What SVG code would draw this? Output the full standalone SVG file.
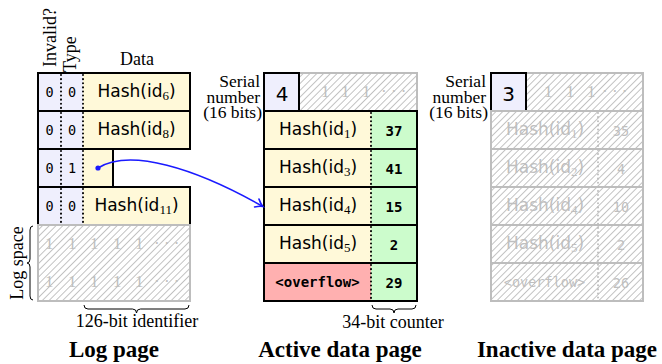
<svg xmlns="http://www.w3.org/2000/svg" width="662" height="364" viewBox="0 0 662 364">
<defs>
<pattern id="hatch" patternUnits="userSpaceOnUse" width="4.8" height="4.8" patternTransform="rotate(45)">
<rect width="4.8" height="4.8" fill="#ffffff"/>
<line x1="2.4" y1="-1" x2="2.4" y2="6" stroke="#bdbdbd" stroke-width="0.9"/>
</pattern>
<marker id="arr" markerUnits="userSpaceOnUse" markerWidth="14" markerHeight="14" viewBox="-8 -7 14 14" refX="0" refY="0" orient="auto">
<path d="M-6,-4.5 Q-2,-1 1,0 Q-2,1 -6,4.5" fill="none" stroke="#1a1aff" stroke-width="1.6" stroke-linecap="round"/>
</marker>
<style>
.cell{stroke:#000;stroke-width:2}
.lav{fill:#efeffd}
.yel{fill:#fff9d9}
.grn{fill:#ccfccc}
.red{fill:#ffb0b0}
.gcell{fill:url(#hatch);stroke:#bdbdbd;stroke-width:2}
.dot{stroke:#000;stroke-width:2;stroke-dasharray:0.1 4;stroke-linecap:round;fill:none}
.gdot{stroke:#bdbdbd;stroke-width:2;stroke-dasharray:0.1 4;stroke-linecap:round;fill:none}
.serif{font-family:"Liberation Serif","Times New Roman",serif;font-size:18px;fill:#000}
.lbl{font-family:"Liberation Serif","Times New Roman",serif;font-size:17.5px;fill:#000}
.title{font-family:"Liberation Serif","Times New Roman",serif;font-size:23px;font-weight:bold;fill:#000}
.mono{font-family:"DejaVu Sans Mono",monospace;font-size:13.5px;fill:#000}
.bmono{font-family:"DejaVu Sans Mono",monospace;font-size:14px;font-weight:bold;fill:#000}
.hash{font-family:"DejaVu Sans",sans-serif;font-size:17px;fill:#000}
.sub{font-family:"Liberation Serif",serif;font-size:13px}
.big{font-family:"DejaVu Sans",sans-serif;font-size:20px;fill:#000}
.ghost{fill:#bfbfbf}
.gserif{font-family:"Liberation Serif",serif;font-size:17px;fill:#bfbfbf}
.brace{fill:none;stroke:#000;stroke-width:1}
</style>
</defs>
<rect width="662" height="364" fill="#ffffff"/>

<!-- Log page -->
<g id="log-headers">
<text class="serif" transform="translate(56,67) rotate(-90)">Invalid?</text>
<text class="serif" transform="translate(76,72) rotate(-90)">Type</text>
<text class="serif" x="137" y="65" text-anchor="middle">Data</text>
</g>
<g id="log-row1">
<rect class="lav" x="38" y="73" width="45" height="38"/>
<rect class="yel" x="83" y="73" width="107" height="38"/>
<rect class="cell" x="38" y="73" width="152" height="38" fill="none"/>
<line class="dot" x1="61" y1="75" x2="61" y2="110"/>
<line class="dot" x1="83" y1="75" x2="83" y2="110"/>
<text class="mono" x="49.5" y="97" text-anchor="middle">0</text>
<text class="mono" x="72" y="97" text-anchor="middle">0</text>
<text class="hash" x="136.5" y="97" text-anchor="middle">Hash(id<tspan class="sub" dy="3">6</tspan><tspan dy="-3">)</tspan></text>
</g>
<g id="log-row2">
<rect class="lav" x="38" y="111" width="45" height="38"/>
<rect class="yel" x="83" y="111" width="107" height="38"/>
<rect class="cell" x="38" y="111" width="152" height="38" fill="none"/>
<line class="dot" x1="61" y1="113" x2="61" y2="148"/>
<line class="dot" x1="83" y1="113" x2="83" y2="148"/>
<text class="mono" x="49.5" y="135" text-anchor="middle">0</text>
<text class="mono" x="72" y="135" text-anchor="middle">0</text>
<text class="hash" x="136.5" y="135" text-anchor="middle">Hash(id<tspan class="sub" dy="3">8</tspan><tspan dy="-3">)</tspan></text>
</g>
<g id="log-row3">
<rect class="lav" x="38" y="149" width="45" height="38"/>
<rect class="yel" x="83" y="149" width="30" height="38"/>
<rect class="cell" x="38" y="149" width="75" height="38" fill="none"/>
<line class="dot" x1="61" y1="151" x2="61" y2="186"/>
<line class="dot" x1="83" y1="151" x2="83" y2="186"/>
<text class="mono" x="49.5" y="173" text-anchor="middle">0</text>
<text class="mono" x="72" y="173" text-anchor="middle">1</text>
</g>
<g id="log-row4">
<rect class="lav" x="38" y="187" width="45" height="38"/>
<rect class="yel" x="83" y="187" width="107" height="38"/>
<rect class="cell" x="38" y="187" width="152" height="38" fill="none"/>
<line class="dot" x1="61" y1="189" x2="61" y2="224"/>
<line class="dot" x1="83" y1="189" x2="83" y2="224"/>
<text class="mono" x="49.5" y="211" text-anchor="middle">0</text>
<text class="mono" x="72" y="211" text-anchor="middle">0</text>
<text class="hash" x="136.5" y="211" text-anchor="middle">Hash(id<tspan class="sub" dy="3">11</tspan><tspan dy="-3">)</tspan></text>
</g>
<g id="log-space">
<rect class="gcell" x="38" y="225" width="152" height="76"/>
<text class="gserif" y="249"><tspan x="45">1</tspan><tspan x="68">1</tspan><tspan x="90">1</tspan><tspan x="113">1</tspan><tspan x="135">1</tspan><tspan x="154">· · ·</tspan></text>
<text class="gserif" y="287"><tspan x="45">1</tspan><tspan x="68">1</tspan><tspan x="90">1</tspan><tspan x="113">1</tspan><tspan x="135">1</tspan><tspan x="154">· · ·</tspan></text>
</g>
<g id="log-annotations">
<path class="brace" d="M33,226 Q30,226 30,230 L30,259 Q30,263 27,263 Q30,263 30,267 L30,296 Q30,300 33,300"/>
<text class="serif" transform="translate(23,263) rotate(-90)" text-anchor="middle">Log space</text>
<path class="brace" d="M84,305 Q84,309 88,309 L132.5,309 Q136.5,309 136.5,313 Q136.5,309 140.5,309 L185,309 Q189,309 189,305"/>
<text class="serif" x="137" y="327" text-anchor="middle">126-bit identifier</text>
<text class="title" x="114" y="357" text-anchor="middle">Log page</text>
</g>

<!-- Active data page -->
<g id="active-serial">
<text class="lbl" text-anchor="end"><tspan x="260" y="87">Serial</tspan><tspan x="260" y="103">number</tspan><tspan x="262" y="118">(16 bits)</tspan></text>
<rect class="gcell" x="299" y="73" width="118" height="38"/>
<text class="gserif" y="97"><tspan x="321">1</tspan><tspan x="341">1</tspan><tspan x="362">1</tspan><tspan x="381">· · ·</tspan></text>
<rect class="cell lav" x="264" y="73" width="35" height="38"/>
<text class="big" x="282" y="101" text-anchor="middle">4</text>
</g>
<g id="active-row1">
<rect class="yel" x="264" y="111" width="107" height="38"/>
<rect class="grn" x="371" y="111" width="46" height="38"/>
<rect class="cell" x="264" y="111" width="153" height="38" fill="none"/>
<line class="dot" x1="371" y1="113" x2="371" y2="148"/>
<text class="hash" x="318" y="135" text-anchor="middle">Hash(id<tspan class="sub" dy="3">1</tspan><tspan dy="-3">)</tspan></text>
<text class="bmono" x="394" y="136" text-anchor="middle">37</text>
</g>
<g id="active-row2">
<rect class="yel" x="264" y="149" width="107" height="38"/>
<rect class="grn" x="371" y="149" width="46" height="38"/>
<rect class="cell" x="264" y="149" width="153" height="38" fill="none"/>
<line class="dot" x1="371" y1="151" x2="371" y2="186"/>
<text class="hash" x="318" y="173" text-anchor="middle">Hash(id<tspan class="sub" dy="3">3</tspan><tspan dy="-3">)</tspan></text>
<text class="bmono" x="394" y="174" text-anchor="middle">41</text>
</g>
<g id="active-row3">
<rect class="yel" x="264" y="187" width="107" height="38"/>
<rect class="grn" x="371" y="187" width="46" height="38"/>
<rect class="cell" x="264" y="187" width="153" height="38" fill="none"/>
<line class="dot" x1="371" y1="189" x2="371" y2="224"/>
<text class="hash" x="318" y="211" text-anchor="middle">Hash(id<tspan class="sub" dy="3">4</tspan><tspan dy="-3">)</tspan></text>
<text class="bmono" x="394" y="212" text-anchor="middle">15</text>
</g>
<g id="active-row4">
<rect class="yel" x="264" y="225" width="107" height="38"/>
<rect class="grn" x="371" y="225" width="46" height="38"/>
<rect class="cell" x="264" y="225" width="153" height="38" fill="none"/>
<line class="dot" x1="371" y1="227" x2="371" y2="262"/>
<text class="hash" x="318" y="249" text-anchor="middle">Hash(id<tspan class="sub" dy="3">5</tspan><tspan dy="-3">)</tspan></text>
<text class="bmono" x="394" y="250" text-anchor="middle">2</text>
</g>
<g id="active-row5">
<rect class="red" x="264" y="263" width="107" height="38"/>
<rect class="grn" x="371" y="263" width="46" height="38"/>
<rect class="cell" x="264" y="263" width="153" height="38" fill="none"/>
<line class="dot" x1="371" y1="265" x2="371" y2="300"/>
<text class="bmono" x="317.5" y="287" text-anchor="middle">&lt;overflow&gt;</text>
<text class="bmono" x="394" y="288" text-anchor="middle">29</text>
</g>
<g id="active-annotations">
<path class="brace" d="M372,305 Q372,309 376,309 L390,309 Q394,309 394,313 Q394,309 398,309 L412,309 Q416,309 416,305"/>
<text class="serif" x="393" y="328" text-anchor="middle">34-bit counter</text>
<text class="title" x="340" y="357" text-anchor="middle">Active data page</text>
</g>

<!-- Inactive data page -->
<g id="inactive-serial">
<text class="lbl" text-anchor="end"><tspan x="486" y="87">Serial</tspan><tspan x="486" y="103">number</tspan><tspan x="488" y="118">(16 bits)</tspan></text>
<rect class="gcell" x="526" y="73" width="117" height="38"/>
<text class="gserif" y="97"><tspan x="544">1</tspan><tspan x="566">1</tspan><tspan x="587">1</tspan><tspan x="602">· · ·</tspan></text>
<rect class="cell lav" x="491" y="73" width="35" height="38"/>
<text class="big" x="508.5" y="101" text-anchor="middle">3</text>
</g>
<g id="inactive-rows">
<rect class="gcell" x="491" y="111" width="152" height="38"/>
<rect class="gcell" x="491" y="149" width="152" height="38"/>
<rect class="gcell" x="491" y="187" width="152" height="38"/>
<rect class="gcell" x="491" y="225" width="152" height="38"/>
<rect class="gcell" x="491" y="263" width="152" height="38"/>
<line class="gdot" x1="598" y1="113" x2="598" y2="299"/>
<text class="hash ghost" x="545" y="135" text-anchor="middle">Hash(id<tspan class="sub" dy="3">1</tspan><tspan dy="-3">)</tspan></text>
<text class="hash ghost" x="545" y="173" text-anchor="middle">Hash(id<tspan class="sub" dy="3">2</tspan><tspan dy="-3">)</tspan></text>
<text class="hash ghost" x="545" y="211" text-anchor="middle">Hash(id<tspan class="sub" dy="3">4</tspan><tspan dy="-3">)</tspan></text>
<text class="hash ghost" x="545" y="249" text-anchor="middle">Hash(id<tspan class="sub" dy="3">5</tspan><tspan dy="-3">)</tspan></text>
<text class="mono ghost" x="544.5" y="287" text-anchor="middle">&lt;overflow&gt;</text>
<text class="mono ghost" x="621" y="136" text-anchor="middle">35</text>
<text class="mono ghost" x="621" y="174" text-anchor="middle">4</text>
<text class="mono ghost" x="621" y="212" text-anchor="middle">10</text>
<text class="mono ghost" x="621" y="250" text-anchor="middle">2</text>
<text class="mono ghost" x="621" y="288" text-anchor="middle">26</text>
<text class="title" x="567" y="357" text-anchor="middle">Inactive data page</text>
</g>

<!-- Connectors -->
<g id="connectors">
<circle cx="98" cy="168" r="2.6" fill="#1a1aff"/>
<path d="M98,168 C130,148 195,168 262,206" fill="none" stroke="#1a1aff" stroke-width="1.6" marker-end="url(#arr)"/>
</g>
</svg>
